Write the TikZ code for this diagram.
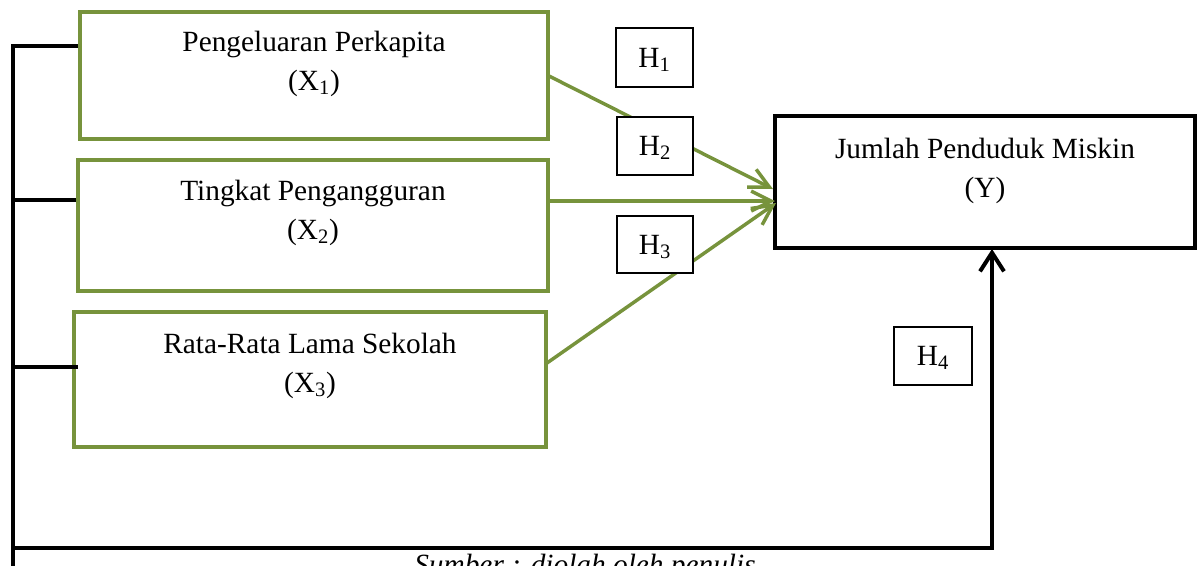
\documentclass[tikz,border=0pt]{standalone}
\usepackage{fontspec}
\setmainfont{Liberation Serif}
\usetikzlibrary{arrows.meta,calc}
\definecolor{olivegreen}{RGB}{119,147,60}
\begin{document}
\begin{tikzpicture}[x=0.75pt,y=-0.75pt,
  font=\fontsize{22}{29}\selectfont,
  gbox/.style={draw=olivegreen,line width=2.5pt,inner sep=0pt,outer sep=0pt},
  ybox/.style={draw=black,line width=2.7pt,inner sep=0pt,outer sep=0pt},
  hbox/.style={draw=black,fill=white,line width=1.4pt,inner sep=0pt,outer sep=0pt,
    minimum width=57.5pt,minimum height=43.5pt,text height=14.5pt,text depth=0pt},
  txt/.style={anchor=base,inner sep=0pt},
  garrow/.style={draw=olivegreen,line width=2.6pt,-{Straight Barb[length=15pt,width=15pt,line width=2.6pt]}},
  blk/.style={draw=black,line width=3pt},
  barrow/.style={draw=black,line width=3pt,-{Straight Barb[length=14pt,width=18pt,line width=3pt]}}
]
\useasboundingbox (0,0) rectangle (1200,565);

% main boxes
\node[gbox,minimum width=351pt,minimum height=95.25pt] (x1) at (314,75.5) {};
\node[gbox,minimum width=352.5pt,minimum height=98.25pt] (x2) at (313,225.5) {};
\node[gbox,minimum width=354pt,minimum height=101.25pt] (x3) at (310,379.5) {};
\node[ybox,minimum width=315pt,minimum height=99pt] (y) at (985,182) {};

% texts
\node[txt] (t1a) at (314,51) {Pengeluaran Perkapita};
\node[txt] (t1b) at (314,90) {(X\textsubscript{1})};
\node[txt] (t2a) at (313,200) {Tingkat Pengangguran};
\node[txt] (t2b) at (313,239) {(X\textsubscript{2})};
\node[txt] (t3a) at (310,353) {Rata-Rata Lama Sekolah};
\node[txt] (t3b) at (310,392) {(X\textsubscript{3})};
\node[txt] (tya) at (985,158) {Jumlah Penduduk Miskin};
\node[txt] (tyb) at (985,197) {(Y)};

% green connectors
\coordinate (s1) at (x1.east);
\coordinate (s2) at ($(x2.east)+(0,-24.5)$);
\coordinate (s3) at ($(x3.east)+(1,-16.5)$);
\coordinate (e1) at ($(y.west)+(-2,7)$);
\coordinate (e2) at ($(y.west)+(0,19)$);
\coordinate (e3) at ($(y.west)+(1,21)$);
\draw[garrow] (s1) -- (e1);
\draw[garrow] (s2) -- (e2);
\draw[garrow] (s3) -- (e3);

% hypothesis boxes
\node[hbox,minimum width=57.75pt,minimum height=44.25pt] (h1) at (654.5,57.5) {H\textsubscript{1}};
\node[hbox] (h2) at (655,146) {H\textsubscript{2}};
\node[hbox,minimum height=42.75pt] (h3) at (655,244.5) {H\textsubscript{3}};
\node[hbox,minimum width=58.5pt] (h4) at (933,356) {H\textsubscript{4}};

% black bracket
\coordinate (b1) at ($(x1.west)+(-2,-29.5)$);
\coordinate (b2) at ($(x2.west)+(-2,-25.5)$);
\coordinate (b3) at ($(x3.west)+(4,-12.5)$);
\coordinate (L) at (13,46);
\coordinate (Lb) at (13,570);
\coordinate (Bc) at (13,548);
\coordinate (ye) at ($(y.south)+(7,1)$);
\draw[blk] (b1) -- (L) -- (Lb);
\draw[blk] (b2) -- (b2 -| L);
\draw[blk] (b3) -- (b3 -| L);
\draw[barrow] (Bc) -| (ye);

% caption
\node[txt,font=\fontsize{22}{29}\selectfont\itshape] (src) at (585,574) {Sumber : diolah oleh penulis};
\end{tikzpicture}
\end{document}
